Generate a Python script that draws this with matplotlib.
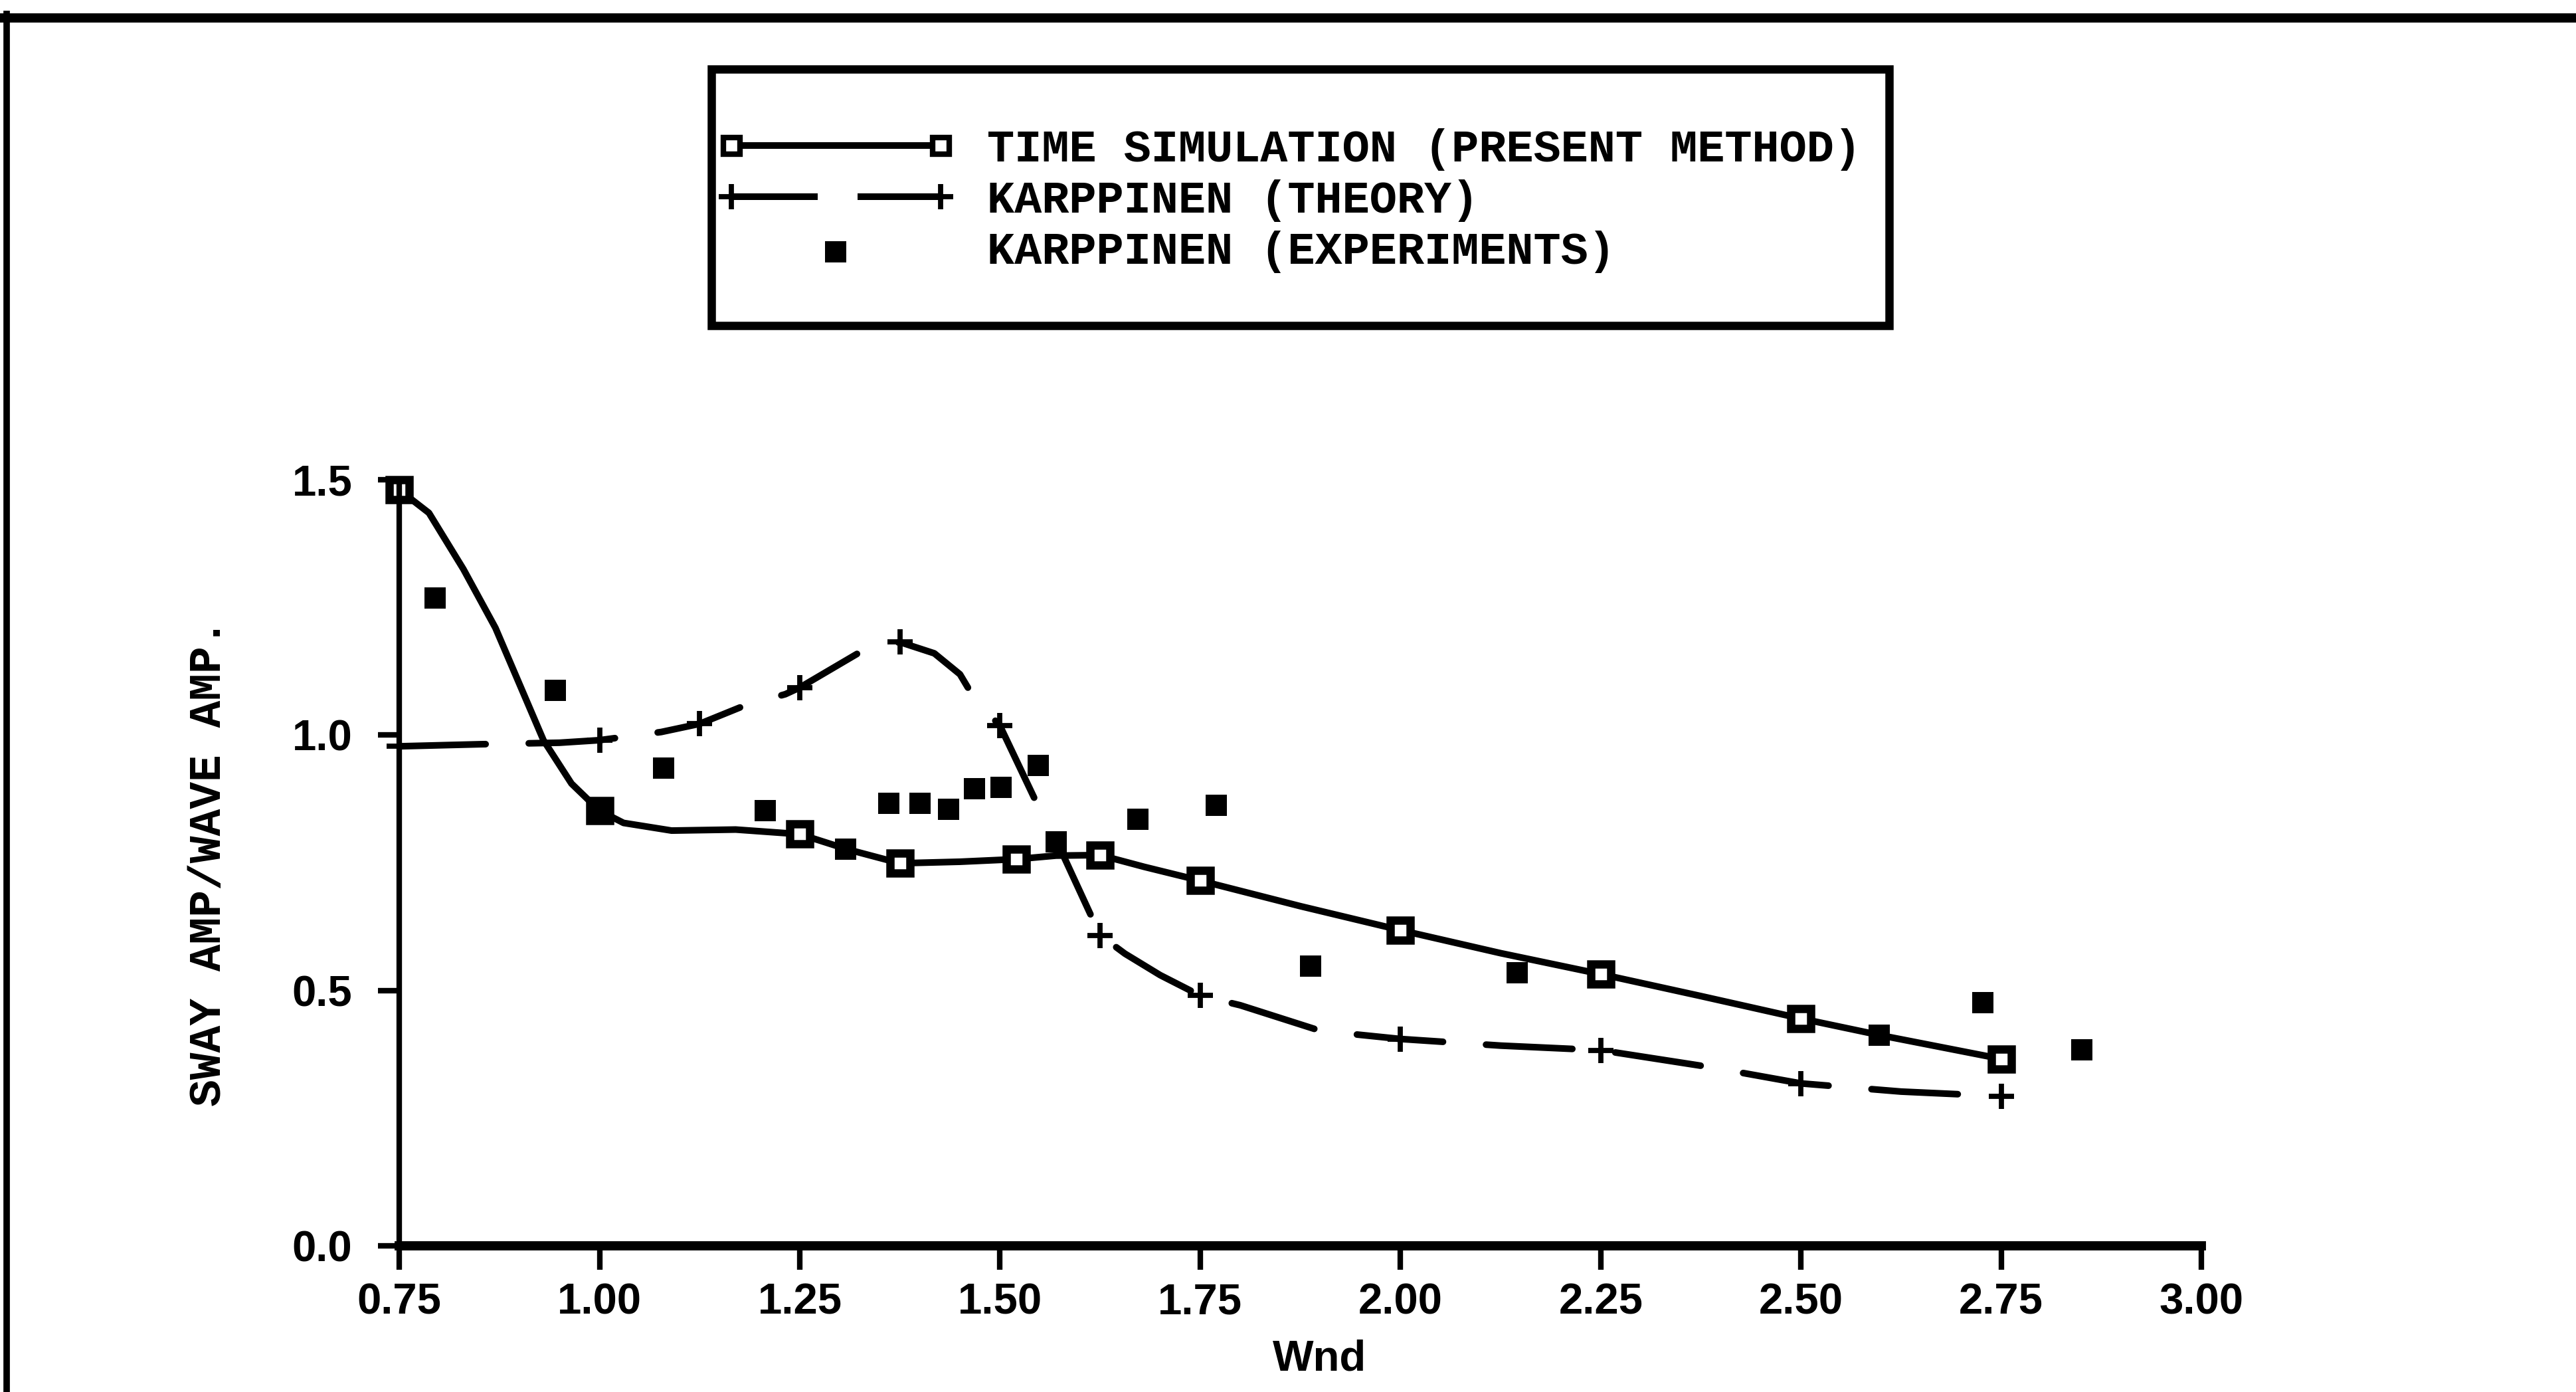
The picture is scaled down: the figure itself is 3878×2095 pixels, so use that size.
import matplotlib as mpl
mpl.use('Agg')
import matplotlib.pyplot as plt
from matplotlib.lines import Line2D
from matplotlib.patches import Rectangle

sim_curve_x = [0.75, 0.787, 0.83, 0.87, 0.90, 0.93, 0.965, 1.0, 1.03, 1.09, 1.17, 1.25,
               1.31, 1.375, 1.45, 1.52, 1.57, 1.625, 1.68, 1.75, 1.875, 2.0, 2.125,
               2.25, 2.375, 2.5, 2.6, 2.75]
sim_curve_y = [1.48, 1.435, 1.325, 1.21, 1.10, 0.99, 0.905, 0.852, 0.828, 0.813, 0.815, 0.806,
               0.776, 0.749, 0.752, 0.757, 0.764, 0.765, 0.742, 0.715, 0.665, 0.618, 0.573,
               0.532, 0.489, 0.445, 0.412, 0.366]
sim_x = [0.75, 1.0, 1.25, 1.375, 1.52, 1.625, 1.75, 2.0, 2.25, 2.5, 2.75]
sim_y = [1.48, 0.852, 0.806, 0.749, 0.757, 0.765, 0.715, 0.618, 0.532, 0.445, 0.366]

theory_curve_x = [0.75, 0.85, 0.95, 1.0, 1.077, 1.125, 1.18, 1.232, 1.25, 1.327, 1.375,
                  1.418, 1.45, 1.466, 1.5, 1.55, 1.58, 1.625, 1.656, 1.70, 1.75, 1.80,
                  1.90, 2.0, 2.125, 2.25, 2.39, 2.5, 2.625, 2.75]
theory_curve_y = [0.978, 0.982, 0.985, 0.99, 1.006, 1.022, 1.057, 1.080, 1.093, 1.164, 1.182,
                  1.160, 1.119, 1.077, 1.018, 0.853, 0.761, 0.608, 0.572, 0.530, 0.490, 0.471,
                  0.421, 0.405, 0.392, 0.383, 0.349, 0.318, 0.302, 0.293]
theory_x = [0.75, 1.0, 1.125, 1.25, 1.375, 1.5, 1.625, 1.75, 2.0, 2.25, 2.5, 2.75]
theory_y = [0.978, 0.99, 1.022, 1.093, 1.182, 1.018, 0.608, 0.490, 0.405, 0.383, 0.318, 0.293]

# Karppinen experiments
exp_x = [0.795, 0.945, 1.0, 1.08, 1.207, 1.307, 1.361, 1.400, 1.436, 1.468, 1.501, 1.548,
         1.570, 1.672, 1.77, 1.888, 2.146, 2.598, 2.727, 2.851]
exp_y = [1.268, 1.088, 0.855, 0.935, 0.852, 0.777, 0.866, 0.867, 0.855, 0.895, 0.898, 0.94,
         0.791, 0.835, 0.862, 0.548, 0.535, 0.412, 0.476, 0.384]

xticks = [0.75, 1.00, 1.25, 1.50, 1.75, 2.00, 2.25, 2.50, 2.75, 3.00]
yticks = [0.0, 0.5, 1.0, 1.5]
labels = ['TIME SIMULATION (PRESENT METHOD)', 'KARPPINEN (THEORY)', 'KARPPINEN (EXPERIMENTS)']

sans = ['Liberation Sans', 'DejaVu Sans']
mono = ['Liberation Mono', 'DejaVu Sans Mono']

fig = plt.figure(figsize=(19.39, 10.475), dpi=200)
ax = fig.add_axes([0.155, 0.105, 0.6996, 0.5504])

lw = 3.6
ax.plot(sim_curve_x, sim_curve_y, color='k', lw=lw, solid_joinstyle='round',
        solid_capstyle='round', clip_on=False)
ax.plot(sim_x, sim_y, ls='none', marker='s', ms=11, mfc='white', mec='k', mew=4.5,
        clip_on=False)
ax.plot(theory_curve_x, theory_curve_y, color='k', lw=lw, dashes=(13, 6.5),
        dash_capstyle='round', clip_on=False)
ax.plot(theory_x, theory_y, ls='none', marker='+', ms=14, mew=2.8, color='k', clip_on=False)
exp = ax.scatter(exp_x, exp_y, marker='s', s=130, color='k', linewidths=0, clip_on=False,
                 zorder=3)

ax.set_xlim(0.75, 3.0)
ax.set_ylim(0.0, 1.5)
ax.set_xticks(xticks)
ax.set_xticklabels(['%.2f' % v for v in xticks])
ax.set_yticks(yticks)
ax.set_yticklabels(['%.1f' % v for v in yticks])
for s in ['top', 'right']:
    ax.spines[s].set_visible(False)
ax.spines['left'].set_linewidth(3)
ax.spines['bottom'].set_linewidth(5)
ax.tick_params(axis='x', direction='out', length=13, width=3, pad=7)
ax.tick_params(axis='y', direction='out', length=11.5, width=3, pad=14)
for t in ax.get_xticklabels() + ax.get_yticklabels():
    t.set_family(sans)
    t.set_fontweight('bold')
    t.set_fontsize(23.5)

ax.set_xlabel('Wnd', family=sans, fontweight='bold', fontsize=23.5)
ax.xaxis.set_label_coords(0.5105, -0.122)
ax.set_ylabel('SWAY AMP/WAVE AMP.', family=mono, fontweight='bold', fontsize=24.5)
ax.yaxis.set_label_coords(-0.094, 0.5)

# legend
h1 = Line2D([], [], color='k', lw=lw, marker='s', ms=9, mfc='white', mec='k', mew=3)
h2 = Line2D([], [], color='k', lw=lw, dashes=(13, 6), marker='+', ms=14, mew=2.8)
leg = fig.legend([h1, h2, exp], labels, loc='upper left',
                 bbox_to_anchor=(0.2785, 0.9077), frameon=False, borderpad=0,
                 borderaxespad=0, numpoints=2, scatterpoints=1, handlelength=5.2,
                 handletextpad=0.72, labelspacing=0.19,
                 prop={'family': mono, 'weight': 'bold', 'size': 24.7})
fig.add_artist(Rectangle((0.2762, 0.7661), 0.4572, 0.1843, transform=fig.transFigure,
                         fill=False, lw=4.5, edgecolor='k'))

# outer frame (top and left edges)
fig.add_artist(Line2D([0, 1], [0.987, 0.987], transform=fig.transFigure, color='k', lw=5))
fig.add_artist(Line2D([0.0026, 0.0026], [0, 0.99], transform=fig.transFigure, color='k', lw=3.5))

fig.savefig('out.png', dpi=200)
